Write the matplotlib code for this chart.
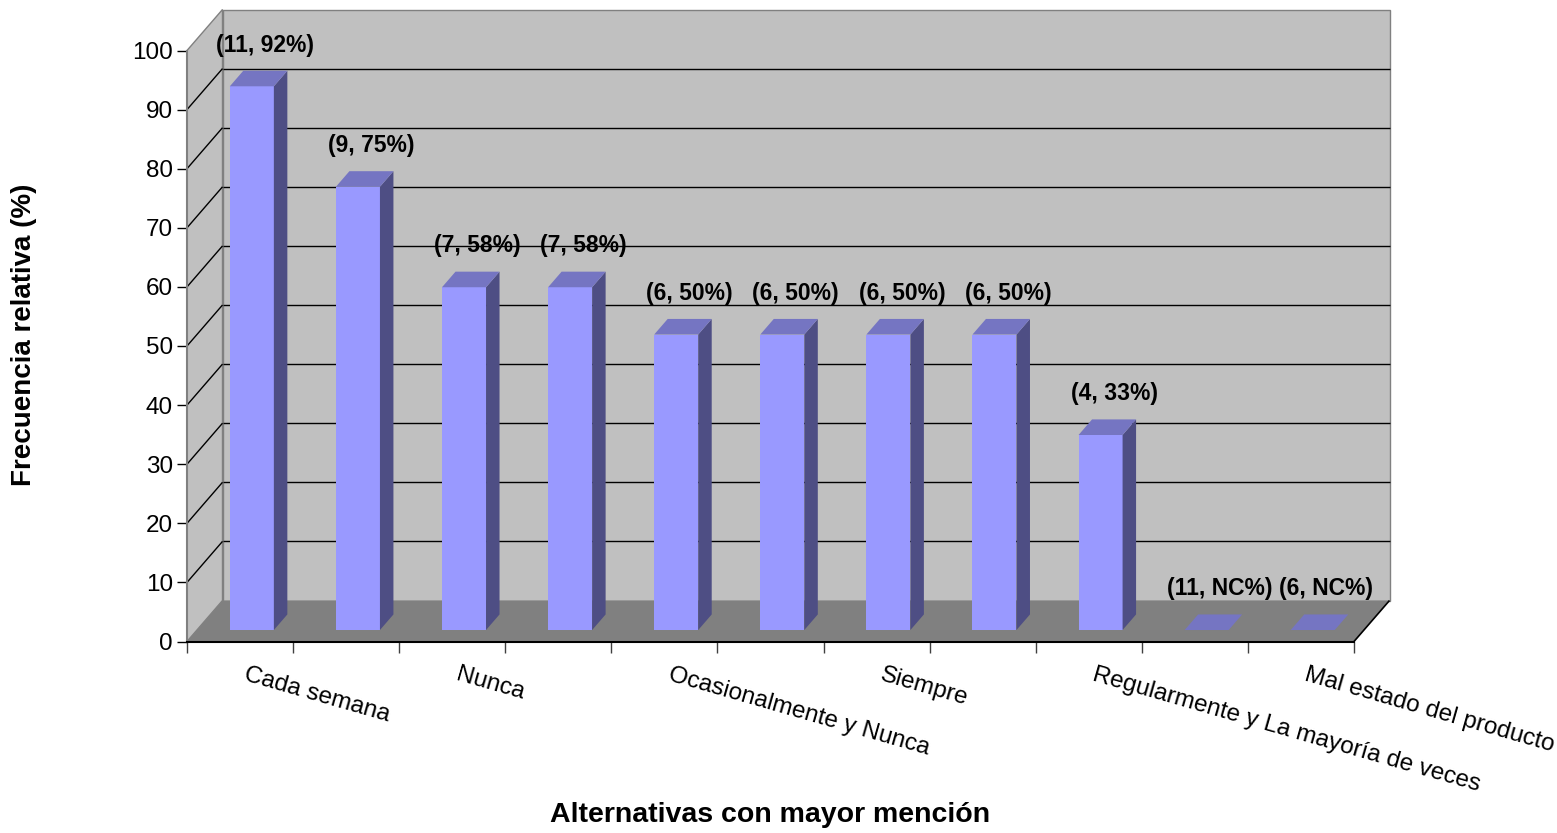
import matplotlib
matplotlib.use("Agg")
import matplotlib.pyplot as plt
from matplotlib.patches import Polygon

plt.rcParams["font.family"] = ["Liberation Sans", "DejaVu Sans"]

# data
categories = [
    "Cada semana", "", "Nunca", "", "Ocasionalmente y Nunca", "",
    "Siempre", "", "Regularmente y La mayoría de veces", "", "Mal estado del producto",
]
values = [92, 75, 58, 58, 50, 50, 50, 50, 33, 0, 0]
counts = ["11", "9", "7", "7", "6", "6", "6", "6", "4", "11", "6"]
percents = ["92", "75", "58", "58", "50", "50", "50", "50", "33", "NC", "NC"]

WALL = "#C0C0C0"
FLOOR = "#808080"
FRONT = "#9999FF"
TOP = "#7575C2"
SIDE = "#4E4E84"

W_PX, H_PX = 1557, 833
fig = plt.figure(figsize=(W_PX / 100, H_PX / 100), dpi=100)
# front plane of the 3D box, in pixels
x_left, x_right = 187, 1354
y_zero, y_hundred = 641.5, 50.5
ax = fig.add_axes([
    x_left / W_PX, 1 - y_zero / H_PX,
    (x_right - x_left) / W_PX, (y_zero - y_hundred) / H_PX,
])
n = len(values)
ax.set_xlim(0, n)
ax.set_ylim(0, 100)
ax.set_facecolor("none")

# depth of the box (35.5 px right, 41 px up) in data units
px_x = (x_right - x_left) / n
px_y = (y_zero - y_hundred) / 100
DX = 35.5 / px_x
DY = 41.0 / px_y


def P(x, v, d):
    return (x + d * DX, v + d * DY)


def poly(pts, fc, ec="none", lw=0.0, z=1):
    ax.add_patch(Polygon(pts, closed=True, facecolor=fc, edgecolor=ec,
                         linewidth=lw, clip_on=False, zorder=z))


def line(p0, p1, color="black", lw=1.0, z=1.2):
    ax.plot([p0[0], p1[0]], [p0[1], p1[1]], color=color, lw=lw,
            clip_on=False, zorder=z, solid_capstyle="butt")


# walls and floor
poly([P(0, 0, 1), P(n, 0, 1), P(n, 100, 1), P(0, 100, 1)], WALL, "#808080", 1.0)
poly([P(0, 0, 0), P(0, 0, 1), P(0, 100, 1), P(0, 100, 0)], WALL, "#808080", 1.0)
poly([P(0, 0, 0), P(n, 0, 0), P(n, 0, 1), P(0, 0, 1)], FLOOR)
line(P(n, 0, 0), P(n, 0, 1), "black", 1.2)

for v in range(10, 100, 10):
    line(P(0, v, 1), P(n, v, 1))
    line(P(0, v, 0), P(0, v, 1))

# bars
d0, d1 = 0.28, 0.66
bw = 0.415
for i, v in enumerate(values):
    x0 = i + 0.31
    x1 = x0 + bw
    poly([P(x0, 0, d0), P(x1, 0, d0), P(x1, v, d0), P(x0, v, d0)], FRONT, z=2)
    poly([P(x1, 0, d0), P(x1, 0, d1), P(x1, v, d1), P(x1, v, d0)], SIDE, z=2)
    poly([P(x0, v, d0), P(x1, v, d0), P(x1, v, d1), P(x0, v, d1)], TOP, z=2)
    cx, cy = P((x0 + x1) / 2, v, d1)
    ax.annotate(f"({counts[i]}, {percents[i]}%)", xy=(cx, cy), xytext=(0, 18.5),
                textcoords="offset points", ha="center", va="center",
                fontsize=16.5, fontweight="bold", annotation_clip=False, zorder=4)

# axes lines and ticks
for s in ("top", "right"):
    ax.spines[s].set_visible(False)
ax.spines["left"].set_color("#808080")
ax.spines["left"].set_linewidth(1.5)
ax.spines["bottom"].set_color("black")
ax.spines["bottom"].set_linewidth(1.5)
ax.set_yticks(range(0, 101, 10))
ax.set_xticks(range(0, n + 1))
ax.set_xticklabels([])
ax.tick_params(axis="y", length=7.2, width=1, color="black", labelsize=17.5, pad=3)
ax.tick_params(axis="x", length=8, width=1, color="#404040")

for i, name in enumerate(categories):
    if not name:
        continue
    ax.annotate(name, xy=(i + 0.57, 0), xytext=(0, -16), textcoords="offset points",
                rotation=-16, rotation_mode="anchor", ha="left", va="top",
                fontsize=17.5, annotation_clip=False)

fig.text(24 / W_PX, 1 - 335 / H_PX, "Frecuencia relativa (%)", rotation=90,
         ha="center", va="center", fontsize=20, fontweight="bold")
fig.text(770 / W_PX, 1 - 815 / H_PX, "Alternativas con mayor mención",
         ha="center", va="center", fontsize=20.5, fontweight="bold")

fig.savefig("out.png", dpi=100, facecolor="white")
